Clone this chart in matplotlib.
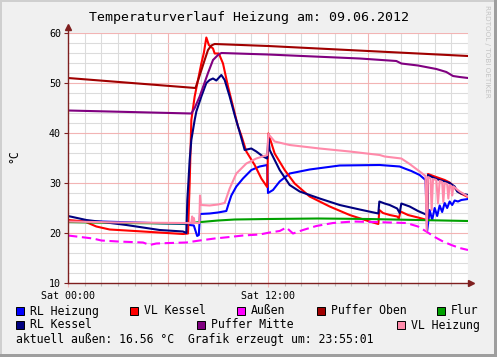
import matplotlib
matplotlib.use('Agg')
import matplotlib.pyplot as plt
from matplotlib.patches import Rectangle

# hours since 00:00, temperatures in degC
rl_heiz_h = [0, 2, 4, 6, 7.0, 7.3, 7.55, 7.75, 7.85, 7.92, 8.5, 9.0, 9.5, 9.65, 9.8, 10.1, 10.5, 11.0, 11.5, 11.95,
             12.0, 12.3, 12.7, 13.3, 14.5, 16.3, 18.7, 19.9, 20.2, 20.6, 21.1, 21.45, 21.55, 21.7, 21.85, 22.0, 22.15,
             22.3, 22.45, 22.6, 22.75, 22.9, 23.05, 23.2, 23.4, 23.6, 24.0]
rl_heiz_t = [22.4, 22.3, 22.1, 21.9, 21.8, 21.6, 21.5, 19.4, 19.6, 23.8, 23.9, 24.1, 24.4, 26.0, 27.5, 29.3, 30.9, 32.6,
             33.3, 33.6, 28.0, 28.6, 30.3, 31.9, 32.7, 33.5, 33.6, 33.3, 32.9, 32.4, 31.6, 30.6, 20.4, 24.6, 22.6, 25.0,
             23.4, 25.5, 24.2, 26.0, 25.0, 26.3, 25.6, 26.5, 26.3, 26.6, 26.8]

vl_kes_h = [0, 1.0, 1.7, 2.5, 4.5, 6.9, 7.2, 7.3, 7.4, 7.6, 7.8, 8.0, 8.15, 8.3, 8.45, 8.7, 8.8, 9.05, 9.3, 9.6, 9.9,
            10.2, 10.4, 10.7, 11.2, 11.6, 11.95, 12.02, 12.4, 13.0, 13.6, 14.5, 15.7, 16.9, 18.1, 18.62, 18.68, 18.9,
            19.3, 19.75, 19.85, 19.95, 20.4, 21.0, 21.55, 21.6, 22.0, 22.6, 22.9, 23.2, 23.5, 24.0]
vl_kes_t = [22.6, 22.3, 21.3, 20.7, 20.3, 19.8, 19.9, 30.0, 42.6, 47.3, 50.6, 53.9, 56.0, 59.1, 57.6, 56.9, 55.9, 55.9,
            53.9, 49.3, 45.3, 41.3, 39.5, 36.3, 33.6, 30.9, 29.2, 39.9, 35.9, 32.6, 29.9, 27.3, 25.3, 23.6, 22.3, 21.8,
            24.6, 24.0, 23.6, 23.3, 22.9, 24.3, 23.6, 23.1, 22.6, 31.8, 31.3, 30.6, 30.1, 29.0, 28.0, 27.2]

aussen_h = [0, 1.5, 2.0, 3.0, 4.5, 4.9, 5.3, 6.1, 7.1, 7.9, 8.8, 9.7, 10.5, 11.5, 12.1, 12.7, 13.1, 13.5, 14.1, 14.9,
            15.9, 17.1, 18.3, 19.3, 20.3, 21.0, 21.5, 22.0, 22.5, 23.0, 23.5, 24.0]
aussen_t = [19.5, 18.9, 18.5, 18.3, 18.1, 17.6, 17.9, 18.0, 18.1, 18.5, 18.9, 19.2, 19.5, 19.7, 20.1, 20.4, 21.1, 19.9,
            20.6, 21.4, 22.0, 22.3, 22.2, 22.1, 22.0, 21.3, 20.3, 19.2, 18.3, 17.6, 17.0, 16.6]

p_oben_h = [0, 7.65, 7.9, 8.2, 8.4, 8.6, 8.8, 12, 18, 24]
p_oben_t = [51.0, 49.0, 51.5, 54.6, 56.6, 57.5, 57.8, 57.4, 56.4, 55.4]

flur_h = [0, 3, 7, 8, 9, 10, 12, 15, 18, 21, 24]
flur_t = [22.2, 22.0, 21.9, 22.2, 22.5, 22.7, 22.8, 22.9, 22.8, 22.6, 22.4]

rl_kes_h = [0, 1.1, 3.5, 5.5, 6.9, 7.1, 7.16, 7.22, 7.3, 7.4, 7.6, 7.7, 8.0, 8.3, 8.5, 8.7, 8.9, 9.2, 9.4, 9.7, 10.0,
            10.3, 10.6, 11.0, 11.3, 11.7, 11.95, 12.02, 12.1, 12.7, 13.3, 13.9, 15.1, 16.3, 17.5, 18.62, 18.68, 19.0,
            19.3, 19.75, 19.9, 20.0, 20.5, 21.0, 21.55, 21.6, 21.9, 22.2, 22.5, 22.9, 23.2, 23.35, 23.6, 24.0]
rl_kes_t = [23.4, 22.6, 21.6, 20.6, 20.3, 20.0, 26.6, 29.9, 34.6, 38.6, 42.6, 44.3, 47.3, 50.0, 50.6, 50.9, 50.5, 51.6,
            50.6, 47.3, 43.6, 40.2, 36.6, 36.9, 36.3, 35.3, 34.9, 38.9, 36.6, 32.6, 29.6, 28.3, 26.9, 25.6, 24.7, 23.9,
            26.3, 25.9, 25.6, 24.9, 24.0, 25.9, 25.3, 24.4, 23.6, 31.6, 31.1, 30.7, 30.4, 30.0, 29.3, 28.3, 27.9, 27.6]

p_mitte_h = [0, 7.4, 7.6, 7.9, 8.4, 8.7, 9.0, 9.2, 12, 17.5, 19.7, 20.0, 21.0, 22.1, 22.7, 23.1, 23.5, 24]
p_mitte_t = [44.5, 43.9, 45.0, 47.3, 52.0, 54.6, 55.6, 56.0, 55.7, 54.9, 54.4, 53.9, 53.5, 52.8, 52.2, 51.4, 51.2, 51.0]

vl_heiz_h = [0, 3, 7, 7.4, 7.45, 7.5, 7.55, 7.6, 7.88, 7.92, 7.98, 8.5, 9.0, 9.4, 9.7, 10.1, 10.7, 11.3, 11.95, 12.02,
             12.4, 13.3, 15.1, 16.9, 18.7, 19.0, 20.0, 20.5, 21.1, 21.45, 21.52, 21.6, 21.75, 21.82, 21.9, 22.1, 22.2,
             22.3, 22.45, 22.52, 22.6, 22.75, 22.82, 22.9, 23.0, 23.05, 23.12, 23.5, 24.0]
vl_heiz_t = [22.3, 22.1, 22.0, 22.0, 23.3, 22.0, 23.0, 22.0, 22.0, 27.5, 25.6, 25.5, 25.7, 26.0, 28.9, 31.9, 33.9, 34.9,
             35.6, 39.8, 38.3, 37.6, 36.9, 36.3, 35.6, 35.3, 34.9, 33.8, 32.3, 31.4, 20.5, 31.2, 30.9, 24.6, 30.8, 30.6,
             25.9, 30.4, 30.2, 26.2, 30.0, 29.8, 26.9, 29.6, 29.4, 27.5, 29.3, 28.3, 27.3]

series = [
    ("RL Heizung", rl_heiz_h, rl_heiz_t, "#0000FF"),
    ("VL Kessel", vl_kes_h, vl_kes_t, "#FF0000"),
    ("Außen", aussen_h, aussen_t, "#FF00FF"),
    ("Puffer Oben", p_oben_h, p_oben_t, "#A00000"),
    ("Flur", flur_h, flur_t, "#00A000"),
    ("RL Kessel", rl_kes_h, rl_kes_t, "#000080"),
    ("Puffer Mitte", p_mitte_h, p_mitte_t, "#800080"),
    ("VL Heizung", vl_heiz_h, vl_heiz_t, "#FF8AAA"),
]

W, H = 497, 357
mono = 'DejaVu Sans Mono'
axis_col = '#7F1F1F'

fig = plt.figure(figsize=(W / 100, H / 100), dpi=100, facecolor='#F0F0F0')
ax = fig.add_axes([68 / W, 74 / H, 400 / W, 250 / H])
ax.set_facecolor('white')
ax.set_xlim(0, 24)
ax.set_ylim(10, 60)

# grid like rrdtool: gray minor, pink major
for h in range(1, 25):
    major = h % 6 == 0 and h < 24
    ax.axvline(h, color='#F2B4B4' if major else '#DCDCDC', lw=0.8, zorder=0)
for t in range(12, 61, 2):
    major = t % 10 == 0
    ax.axhline(t, color='#F2B4B4' if major else '#DCDCDC', lw=0.8, zorder=0)

for name, hx, ty, col in series:
    if name == "Außen":
        ax.plot(hx, ty, color=col, lw=1.5, dashes=(4.5, 2.2), zorder=2)
    else:
        ax.plot(hx, ty, color=col, lw=1.5, zorder=2)

for s in ax.spines.values():
    s.set_visible(False)
# axes with arrows
ax.plot([0, 0], [10, 61.2], color=axis_col, lw=1, clip_on=False, zorder=3)
ax.plot([0, 24.15], [10, 10], color=axis_col, lw=1, clip_on=False, zorder=3)
ax.plot([0], [61.3], marker='^', ms=4, color=axis_col, clip_on=False, zorder=3)
ax.plot([24.2], [10], marker='>', ms=4, color=axis_col, clip_on=False, zorder=3)

ax.set_yticks(range(10, 61, 10))
ax.set_yticklabels([str(v) for v in range(10, 61, 10)], fontfamily=mono, fontsize=7.2)
ax.set_xticks([0, 12])
ax.set_xticklabels(["Sat 00:00", "Sat 12:00"], fontfamily=mono, fontsize=7.2)
ax.set_xticks(range(0, 25), minor=True)
ax.tick_params(axis='y', length=3, width=0.8, color=axis_col, pad=2)
ax.tick_params(axis='x', which='major', length=3, width=0.8, color='#F2B4B4', pad=3)
ax.tick_params(axis='x', which='minor', length=2, width=0.8, color='#BBBBBB')

fig.text(249 / W, 1 - 17 / H, "Temperaturverlauf Heizung am: 09.06.2012",
         ha='center', va='center', fontfamily=mono, fontsize=9.5)
fig.text(14 / W, 1 - 156 / H, "°C", rotation=90, ha='center', va='center',
         fontfamily=mono, fontsize=8.3)
fig.text(487 / W, 1 - 5 / H, "RRDTOOL / TOBI OETIKER", rotation=270, ha='center', va='top',
         fontsize=5.2, color='#C4C4C4')

# legend rows as rrdtool lays them out
legend_pos = [(16, 311), (130, 311), (237, 311), (317, 311), (437, 311),
              (16, 325), (197, 325), (397, 325)]
for (name, hx, ty, col), (lx, ly) in zip(series, legend_pos):
    fig.patches.append(Rectangle((lx / W, 1 - (ly + 4) / H), 8 / W, 8 / H, transform=fig.transFigure,
                                 facecolor=col, edgecolor='black', lw=0.7))
    fig.text((lx + 14) / W, 1 - ly / H, name, ha='left', va='center', fontfamily=mono, fontsize=8.3)

fig.text(16 / W, 1 - 339.5 / H, "aktuell außen: 16.56 °C  Grafik erzeugt um: 23:55:01",
         ha='left', va='center', fontfamily=mono, fontsize=8.3)

# 3d frame
fig.patches.append(Rectangle((0, 0), 2 / W, 1, transform=fig.transFigure, facecolor='#CFCFCF', lw=0))
fig.patches.append(Rectangle((0, 1 - 2 / H), 1, 2 / H, transform=fig.transFigure, facecolor='#CFCFCF', lw=0))
fig.patches.append(Rectangle((1 - 3 / W, 0), 3 / W, 1, transform=fig.transFigure, facecolor='#9E9E9E', lw=0))
fig.patches.append(Rectangle((0, 0), 1, 3 / H, transform=fig.transFigure, facecolor='#9E9E9E', lw=0))

fig.savefig("out.png", dpi=100, facecolor=fig.get_facecolor())
